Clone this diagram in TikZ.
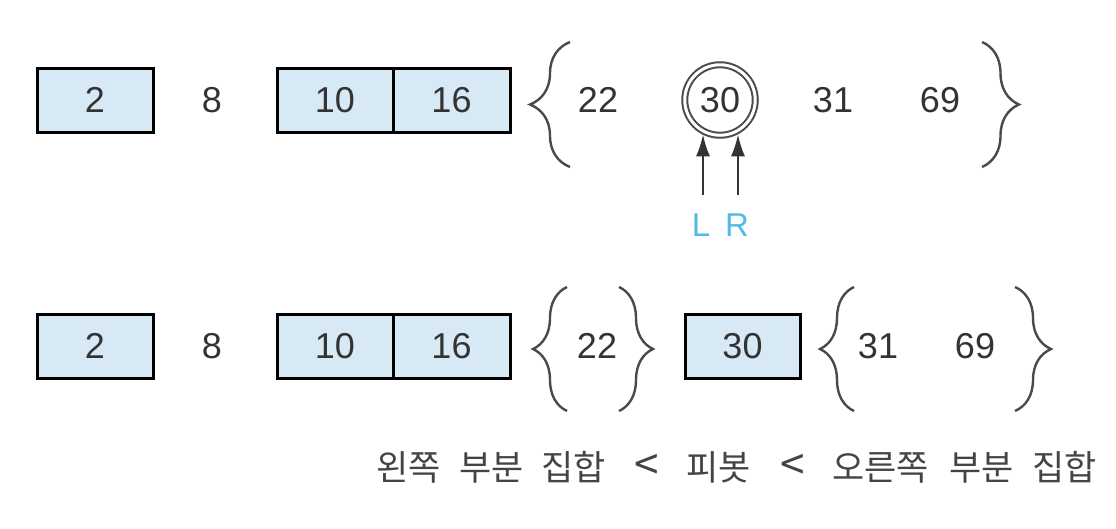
\documentclass[tikz,border=0pt]{standalone}
\usepackage{fontspec}
\setmainfont{Liberation Sans}
\newfontfamily\krfont{Noto Sans CJK KR}
\usetikzlibrary{arrows.meta,decorations.pathreplacing}
\definecolor{cellblue}{HTML}{D8E9F6}
\definecolor{numgray}{HTML}{333333}
\definecolor{bracegray}{HTML}{4A4A4A}
\definecolor{ptrblue}{HTML}{55B9E6}
\definecolor{krgray}{HTML}{444444}
\tikzset{
  cell/.style={draw=black, line width=3pt, fill=cellblue, minimum width=116pt,
    minimum height=64pt, inner sep=0pt, font=\fontsize{36}{40}\selectfont, text=numgray},
  num/.style={inner sep=0pt, font=\fontsize{36}{40}\selectfont, text=numgray},
  lbl/.style={inner sep=0pt, font=\fontsize{33}{38}\selectfont, text=ptrblue},
  curly/.style={draw=bracegray, line width=2.4pt, decorate,
    decoration={brace, amplitude=#1}},
  ptr/.style={draw=numgray, line width=2.4pt, -{Latex[length=22pt,width=14pt]}},
  krw/.style={anchor=base west, inner sep=0pt, text=krgray, font=\krfont\fontsize{35}{40}\selectfont},
  krs/.style={anchor=base, inner sep=0pt, text=krgray, font=\krfont\fontsize{44}{48}\selectfont},
}
\begin{document}
\begin{tikzpicture}[x=1pt,y=-1pt]
\useasboundingbox (0,0) rectangle (1116,528);
% ---------- top row ----------
\node[cell] (t2) at (95,100) {2};
\node[num] (t8) at (212,100) {8};
\node[cell] (t10) at (335,100) {10};
\node[cell, minimum width=117pt] (t16) at (451.5,100) {16};
\coordinate (tbl1) at (570,167);
\coordinate (tbl2) at (570,42);
\draw[curly=40pt] (tbl1) -- (tbl2);
\node[num] (t22) at (598,100) {22};
\node[circle, draw=bracegray, double, double distance=3pt, line width=2pt,
  minimum size=70.5pt, inner sep=0pt, font=\fontsize{36}{40}\selectfont, text=numgray] (c30) at (720,100) {30};
\node[num] (t31) at (833,100) {31};
\node[num] (t69) at (940,100) {69};
\coordinate (tbr1) at (982,42);
\coordinate (tbr2) at (982,167);
\draw[curly=37pt] (tbr1) -- (tbr2);
\coordinate (Lt) at (703,195);
\coordinate (Rt) at (738,195);
\draw[ptr] (Lt) -- ([yshift=2pt]Lt |- c30.south);
\draw[ptr] (Rt) -- ([yshift=2pt]Rt |- c30.south);
\node[lbl] (L) at (701,225) {L};
\node[lbl] (R) at (737,225) {R};
% ---------- bottom row ----------
\node[cell] (b2) at (95,346) {2};
\node[num] (b8) at (212,346) {8};
\node[cell] (b10) at (335,346) {10};
\node[cell, minimum width=117pt] (b16) at (451.5,346) {16};
\coordinate (bl1a) at (567,411);
\coordinate (bl1b) at (567,287);
\draw[curly=34pt] (bl1a) -- (bl1b);
\node[num] (b22) at (597,346) {22};
\coordinate (br1a) at (619,287);
\coordinate (br1b) at (619,411);
\draw[curly=34pt] (br1a) -- (br1b);
\node[cell, minimum width=115pt] (b30) at (742.5,346) {30};
\coordinate (bl2a) at (854,411);
\coordinate (bl2b) at (854,287);
\draw[curly=34pt] (bl2a) -- (bl2b);
\node[num] (b31) at (878,346) {31};
\node[num] (b69) at (975,346) {69};
\coordinate (br2a) at (1015,287);
\coordinate (br2b) at (1015,411);
\draw[curly=36pt] (br2a) -- (br2b);
% ---------- caption ----------
\node[krw] (w1) at (376,480.5) {왼쪽};
\node[krw] (w2) at (459,480.5) {부분};
\node[krw] (w3) at (541,480.5) {집합};
\node[krs] (lt1) at (647,480.5) {<};
\node[krw] (w4) at (686,480.5) {피봇};
\node[krs] (lt2) at (793,480.5) {<};
\node[krw] (w5) at (832,480.5) {오른쪽};
\node[krw] (w6) at (949,480.5) {부분};
\node[krw] (w7) at (1032,480.5) {집합};
\end{tikzpicture}
\end{document}
